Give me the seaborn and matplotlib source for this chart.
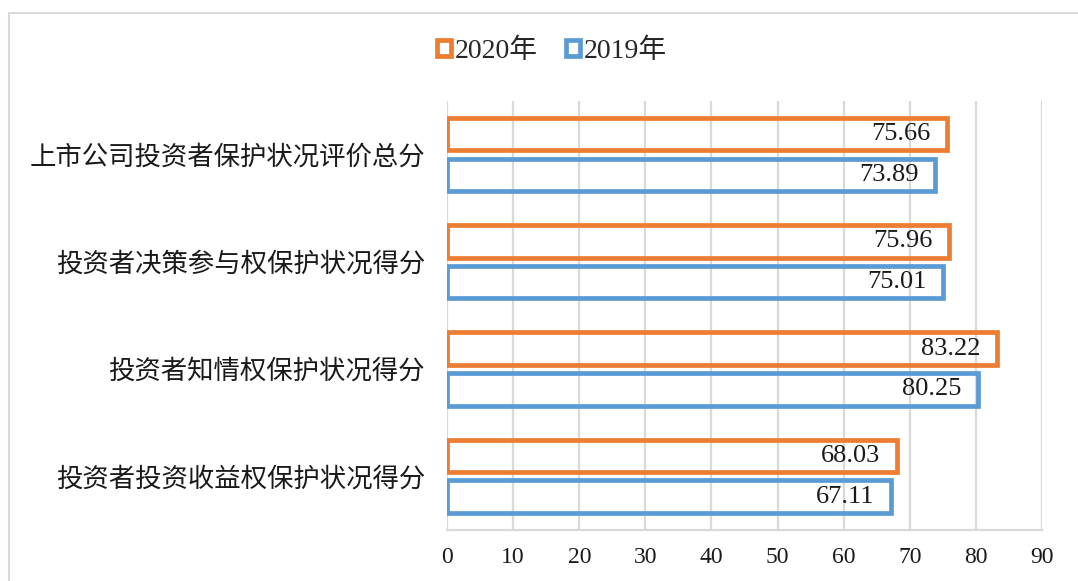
import matplotlib
matplotlib.use("Agg")
import matplotlib.pyplot as plt
from matplotlib.patches import Patch, Rectangle
import seaborn as sns
import pandas as pd

# Scores by category and year
categories = [
    "上市公司投资者保护状况评价总分",
    "投资者决策参与权保护状况得分",
    "投资者知情权保护状况得分",
    "投资者投资收益权保护状况得分",
]
years = ["2020年", "2019年"]
scores_2020 = [75.66, 75.96, 83.22, 68.03]
scores_2019 = [73.89, 75.01, 80.25, 67.11]
x_ticks = [0, 10, 20, 30, 40, 50, 60, 70, 80, 90]

ORANGE = "#ED7D31"
BLUE = "#5B9BD5"
GRID = "#D9D9D9"

sns.set_theme(style="white")
plt.rcParams["font.family"] = ["Liberation Serif", "Noto Sans CJK SC", "DejaVu Sans"]

df = pd.DataFrame({
    "项目": categories * 2,
    "年份": [years[0]] * len(categories) + [years[1]] * len(categories),
    "得分": scores_2020 + scores_2019,
})

fig = plt.figure(figsize=(10.78, 5.81), dpi=100)
ax = fig.add_axes([0.4147, 0.0878, 0.9666 - 0.4147, 0.8265 - 0.0878])

sns.barplot(
    data=df, y="项目", x="得分", hue="年份", hue_order=years,
    order=categories, palette=[ORANGE, BLUE], fill=False,
    linewidth=3.4, width=0.76, gap=0.2, orient="h",
    errorbar=None, legend=False, ax=ax,
)

for patch in ax.patches:
    patch.set_joinstyle("miter")

# Value labels inside the right end of each bar
for container, vals in zip(ax.containers, [scores_2020, scores_2019]):
    for bar, v in zip(container.patches, vals):
        y = bar.get_y() + bar.get_height() / 2
        ax.annotate(f"{v:.2f}", xy=(v, y), xytext=(-12, 0),
                    textcoords="offset points", ha="right", va="center",
                    fontsize=19, color="#1a1a1a")

ax.set_xlim(0, 90)
ax.set_xticks(x_ticks)
ax.set_xticklabels([str(t) for t in x_ticks], fontsize=17, color="#1a1a1a")
ax.tick_params(axis="x", length=0, pad=12)
ax.tick_params(axis="y", length=0, pad=16, labelsize=19, labelcolor="#1a1a1a")
ax.set_xlabel("")
ax.set_ylabel("")

ax.set_axisbelow(True)
ax.grid(axis="x", color=GRID, linewidth=1.6)
ax.grid(axis="y", visible=False)
for side in ["top", "right", "left"]:
    ax.spines[side].set_visible(False)
ax.spines["bottom"].set_color(GRID)
ax.spines["bottom"].set_linewidth(1.6)

handles = [
    Patch(facecolor="white", edgecolor=ORANGE, linewidth=3.4, label=years[0]),
    Patch(facecolor="white", edgecolor=BLUE, linewidth=3.4, label=years[1]),
]
fig.legend(handles=handles, loc="center", bbox_to_anchor=(552 / 1078, 1 - 51 / 581),
           ncol=2, frameon=False, fontsize=20, handlelength=0.5, handleheight=0.5,
           handletextpad=0.15, columnspacing=1.0)

# Chart-area border
fig.patches.append(Rectangle((8.5 / 1078, -0.05), 1.1, 1 - 13 / 581 + 0.05,
                             transform=fig.transFigure, fill=False,
                             edgecolor=GRID, linewidth=1.5))

fig.savefig("out.png", dpi=100, facecolor="white")
